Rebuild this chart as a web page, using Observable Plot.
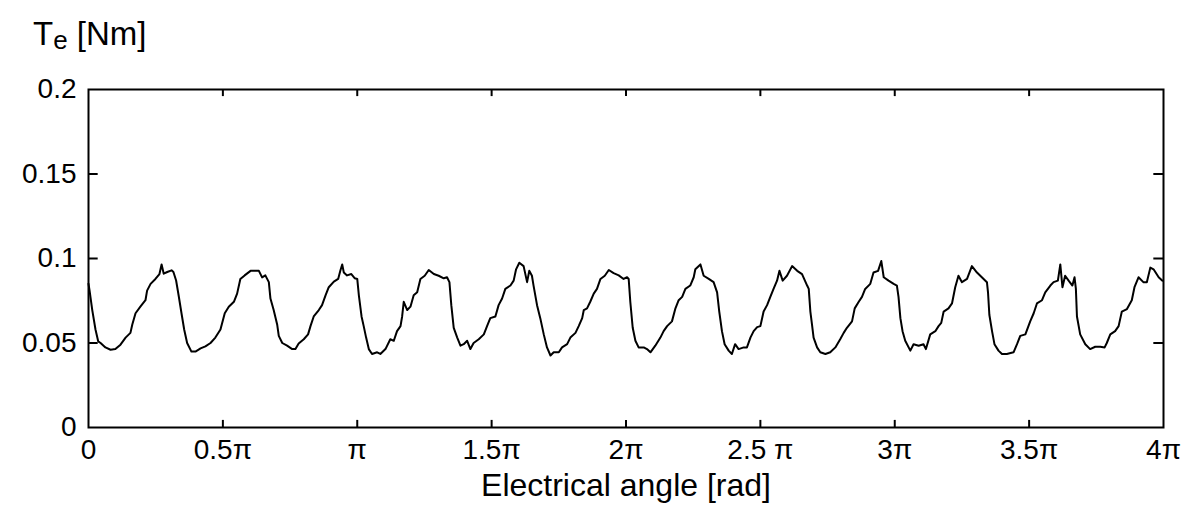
<!DOCTYPE html>
<html>
<head>
<meta charset="utf-8">
<script src="https://cdn.jsdelivr.net/npm/d3@7"></script>
<script src="https://cdn.jsdelivr.net/npm/@observablehq/plot@0.6"></script>
<style>
  html, body { margin: 0; padding: 0; background: #fff; }
  #chart { width: 1202px; height: 522px; }
</style>
</head>
<body>
<div id="chart"></div>
<script>
// Electrical angle, in multiples of π
const angle = [
  0,0.004,0.014,0.026,0.036,0.045,0.063,0.082,0.100,0.119,
  0.138,0.156,0.163,0.175,0.193,0.212,0.218,0.231,0.249,0.264,
  0.272,0.280,0.293,0.309,0.316,0.326,0.336,0.346,0.356,0.367,
  0.383,0.398,0.417,0.435,0.454,0.472,0.491,0.507,0.522,0.541,
  0.553,0.565,0.581,0.603,0.634,0.646,0.658,
  0.671,0.677,0.689,0.702,0.708,0.721,0.739,0.758,0.770,0.782,
  0.801,0.817,0.826,0.838,0.857,0.869,0.882,0.894,0.913,0.929,
  0.937,0.944,0.950,0.962,0.978,0.991,1.000,1.006,1.016,1.024,
  1.033,1.043,1.055,1.074,1.086,1.105,1.123,1.136,1.148,1.161,
  1.167,1.173,1.186,1.198,1.210,1.223,1.235,1.251,1.266,1.285,
  1.303,1.322,1.334,
  1.343,1.350,1.359,1.372,1.384,1.396,1.409,1.421,1.433,1.452,
  1.471,1.483,1.495,1.514,1.526,1.539,1.551,1.570,1.582,1.591,
  1.603,1.619,1.632,1.640,1.650,1.656,1.669,1.681,1.694,1.706,
  1.719,1.731,1.750,1.762,1.781,1.793,1.812,1.824,1.837,1.843,
  1.855,1.867,1.880,1.892,1.905,1.921,1.936,1.954,1.973,1.991,
  2.004,
  2.010,2.016,2.025,2.035,2.047,2.066,2.078,2.091,2.109,2.128,
  2.140,2.153,2.171,2.184,2.196,2.209,2.221,2.239,2.252,2.258,
  2.277,2.289,2.308,2.326,2.339,2.347,2.357,2.367,2.382,2.394,
  2.406,2.419,2.438,2.450,2.463,2.475,2.488,2.500,2.512,2.525,
  2.537,2.549,2.562,2.571,2.583,2.599,2.618,2.637,2.655,2.674,
  2.680,2.686,2.692,2.698,2.711,2.723,2.742,2.760,2.779,2.797,
  2.810,2.822,2.841,2.851,2.866,2.878,2.890,2.909,2.921,2.938,
  2.950,2.959,2.977,2.996,3.008,3.014,3.021,3.029,3.039,3.058,
  3.070,3.089,3.107,3.116,3.132,3.151,3.163,3.173,3.182,3.200,
  3.213,3.225,3.237,3.250,3.269,3.287,3.306,3.324,3.343,
  3.347,3.352,3.362,3.371,3.386,3.399,3.417,3.442,3.455,3.467,
  3.486,3.504,3.517,3.529,3.548,3.560,3.579,3.591,3.607,3.616,
  3.624,3.634,3.647,3.661,3.669,3.674,3.678,3.690,3.709,3.727,
  3.746,3.765,3.781,3.789,3.802,3.820,3.833,3.845,3.864,3.882,
  3.892,3.907,3.925,3.938,3.951,3.963,3.982,3.996
];

// Electromagnetic torque Te [Nm]
const torque = [
  0.085,0.081,0.0695,0.058,0.051,0.050,0.0474,0.046,0.0464,0.049,
  0.0532,0.056,0.061,0.0676,0.0715,0.0753,0.081,0.085,0.0879,0.0908,
  0.0965,0.091,0.092,0.093,0.092,0.087,0.0775,0.0676,0.058,0.050,
  0.0449,0.0449,0.0468,0.048,0.050,0.0532,0.058,0.0676,0.0715,0.0744,
  0.0792,0.0879,0.090,0.0927,0.0927,0.0888,0.090,
  0.086,0.0763,0.0695,0.061,0.0542,0.050,0.0484,0.0464,0.0464,0.0497,
  0.0522,0.0551,0.060,0.0657,0.0695,0.0724,0.0782,0.083,0.0863,0.0879,
  0.0927,0.0965,0.0917,0.090,0.0908,0.0883,0.0879,0.0782,0.0657,0.060,
  0.0532,0.0464,0.0435,0.0445,0.0435,0.0464,0.0522,0.0513,0.057,0.060,
  0.0657,0.0744,0.0695,0.0715,0.0782,0.080,0.0879,0.0898,0.0932,0.0908,
  0.0898,0.0883,0.0889,
  0.086,0.0724,0.059,0.0532,0.0484,0.0493,0.0513,0.0464,0.050,0.0522,
  0.0551,0.060,0.0647,0.0657,0.0724,0.0763,0.082,0.084,0.0869,0.0936,
  0.0975,0.0955,0.086,0.0927,0.0898,0.084,0.0724,0.0647,0.0551,0.0474,
  0.0426,0.0445,0.0445,0.0474,0.0493,0.0532,0.056,0.060,0.0647,0.0695,
  0.0705,0.0744,0.0792,0.082,0.0879,0.0898,0.0932,0.0913,0.090,0.0879,
  0.0889,
  0.0879,0.0744,0.059,0.0513,0.0474,0.0474,0.0464,0.0445,0.0484,0.0532,
  0.057,0.060,0.0628,0.0705,0.0753,0.0773,0.082,0.084,0.0889,0.0936,
  0.0965,0.0898,0.0879,0.086,0.080,0.0686,0.057,0.0493,0.0455,0.0435,
  0.0493,0.0464,0.0474,0.0474,0.0532,0.057,0.0594,0.060,0.0686,0.0724,
  0.0773,0.082,0.0869,0.0927,0.0869,0.0898,0.0955,0.0927,0.0908,0.084,
  0.082,0.0686,0.061,0.0532,0.0474,0.0445,0.0435,0.0445,0.0474,0.0522,
  0.056,0.059,0.0628,0.0705,0.0744,0.0773,0.082,0.085,0.0917,0.0927,
  0.0985,0.0889,0.0869,0.085,0.084,0.0773,0.0647,0.057,0.0513,0.0455,
  0.0493,0.0484,0.0493,0.0464,0.0551,0.057,0.060,0.0619,0.0686,0.0705,
  0.0734,0.083,0.0898,0.086,0.0879,0.0955,0.0917,0.0889,0.086,
  0.080,0.0667,0.057,0.0493,0.0455,0.0435,0.0435,0.0445,0.0493,0.0542,
  0.0551,0.0628,0.0676,0.0734,0.0753,0.080,0.084,0.086,0.0869,0.0965,
  0.083,0.0898,0.0869,0.084,0.0889,0.082,0.0657,0.0551,0.0493,0.0464,
  0.0478,0.0478,0.0474,0.050,0.0551,0.057,0.060,0.0686,0.0701,0.0753,
  0.083,0.0889,0.086,0.086,0.0946,0.0936,0.0889,0.0869
];

const xTickValues = [0, 0.5, 1, 1.5, 2, 2.5, 3, 3.5, 4];
const xTickLabels = ["0", "0.5π", "π", "1.5π", "2π", "2.5 π", "3π", "3.5π", "4π"];
const yTickValues = [0, 0.05, 0.1, 0.15, 0.2];
const yTickLabels = ["0", "0.05", "0.1", "0.15", "0.2"];
const xLabel = "Electrical angle [rad]";
const yLabelMain = "T";
const yLabelSub = "e";
const yLabelUnit = " [Nm]";

const data = angle.map((a, i) => ({angle: a, torque: torque[i]}));
const innerX = xTickValues.slice(1, -1);
const innerY = yTickValues.slice(1, -1);

const chart = Plot.plot({
  width: 1202,
  height: 522,
  marginLeft: 88,
  marginRight: 39,
  marginTop: 89,
  marginBottom: 95,
  style: {fontFamily: "'Liberation Sans', Arial, sans-serif", fontSize: "28px", background: "#fff", color: "#000"},
  x: {domain: [0, 4], label: null},
  y: {domain: [0, 0.2], label: null},
  marks: [
    Plot.line(data, {x: "angle", y: "torque", stroke: "#000", strokeWidth: 2}),
    Plot.frame({stroke: "#000", strokeWidth: 2}),
    // inward ticks: bottom, top, left, right
    Plot.ruleX(innerX, {x: d => d, y1: 0, y2: 0.0042, stroke: "#000", strokeWidth: 2}),
    Plot.ruleX(innerX, {x: d => d, y1: 0.2, y2: 0.1958, stroke: "#000", strokeWidth: 2}),
    Plot.ruleY(innerY, {y: d => d, x1: 0, x2: 0.036, stroke: "#000", strokeWidth: 2}),
    Plot.ruleY(innerY, {y: d => d, x1: 4, x2: 3.964, stroke: "#000", strokeWidth: 2}),
    Plot.axisX(xTickValues, {anchor: "bottom", tickSize: 0, tickPadding: 12, label: null,
      tickFormat: d => xTickLabels[xTickValues.indexOf(d)], fontSize: 28}),
    Plot.axisY(yTickValues, {anchor: "left", tickSize: 0, tickPadding: 12, label: null,
      tickFormat: d => yTickLabels[yTickValues.indexOf(d)], fontSize: 28}),
    Plot.text([xLabel], {text: d => d, frameAnchor: "bottom", dy: 68, fontSize: 32})
  ]
});

const svg = d3.select(chart);
const t = svg.append("text")
  .attr("x", 33).attr("y", 45)
  .attr("text-anchor", "start")
  .attr("font-size", 33)
  .attr("fill", "#000");
t.append("tspan").text(yLabelMain);
t.append("tspan").attr("dy", 4).attr("font-size", 26).text(yLabelSub);
t.append("tspan").attr("dy", -4).attr("font-size", 33).text(yLabelUnit);

document.getElementById("chart").appendChild(chart);
</script>
</body>
</html>
